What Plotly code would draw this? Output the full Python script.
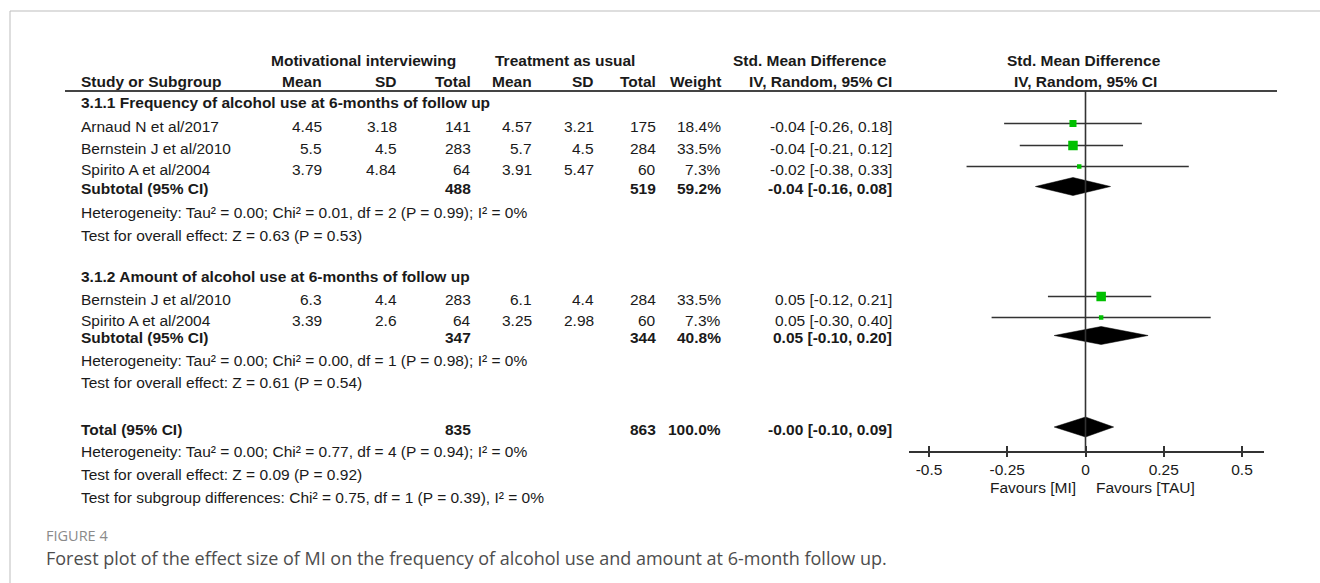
import plotly.graph_objects as go

# ---------------- data ----------------
studies = ["Arnaud N et al/2017", "Bernstein J et al/2010", "Spirito A et al/2004",
           "Bernstein J et al/2010", "Spirito A et al/2004"]
study_group = [0, 0, 0, 1, 1]
mi_mean = [4.45, 5.5, 3.79, 6.3, 3.39]
mi_sd = [3.18, 4.5, 4.84, 4.4, 2.6]
mi_n = [141, 283, 64, 283, 64]
tau_mean = [4.57, 5.7, 3.91, 6.1, 3.25]
tau_sd = [3.21, 4.5, 5.47, 4.4, 2.98]
tau_n = [175, 284, 60, 284, 60]
weight = [18.4, 33.5, 7.3, 33.5, 7.3]
smd = [-0.04, -0.04, -0.02, 0.05, 0.05]
ci_lo = [-0.26, -0.21, -0.38, -0.12, -0.30]
ci_hi = [0.18, 0.12, 0.33, 0.21, 0.40]

group_titles = ["3.1.1 Frequency of alcohol use at 6-months of follow up",
                "3.1.2 Amount of alcohol use at 6-months of follow up"]
sub_mi_n = [488, 347]
sub_tau_n = [519, 344]
sub_weight = [59.2, 40.8]
sub_smd = [-0.04, 0.05]
sub_lo = [-0.16, -0.10]
sub_hi = [0.08, 0.20]
sub_het = ["Heterogeneity: Tau² = 0.00; Chi² = 0.01, df = 2 (P = 0.99); I² = 0%",
           "Heterogeneity: Tau² = 0.00; Chi² = 0.00, df = 1 (P = 0.98); I² = 0%"]
sub_test = ["Test for overall effect: Z = 0.63 (P = 0.53)",
            "Test for overall effect: Z = 0.61 (P = 0.54)"]

total_mi_n = 835
total_tau_n = 863
total_weight = 100.0
total_smd = -0.00
total_lo = -0.10
total_hi = 0.09
total_notes = ["Heterogeneity: Tau² = 0.00; Chi² = 0.77, df = 4 (P = 0.94); I² = 0%",
               "Test for overall effect: Z = 0.09 (P = 0.92)",
               "Test for subgroup differences: Chi² = 0.75, df = 1 (P = 0.39), I² = 0%"]

tick_vals = [-0.5, -0.25, 0, 0.25, 0.5]
tick_text = ["-0.5", "-0.25", "0", "0.25", "0.5"]
favours = ["Favours [MI]", "Favours [TAU]"]

# ---------------- layout geometry (pixels) ----------------
W, H = 1320, 583
X0_PX = 1085.5          # pixel column of zero effect
PX_PER_UNIT = 313.0
AX_L, AX_R = 909, 1263.5
AXIS_Y = 452
RULE_Y = 91

HDR1_Y, HDR2_Y = 60, 81
group_title_y = [102, 276]
study_y = [126, 148, 169, 299, 320]
sub_y = [188, 337]
sub_het_y = [212.5, 360.5]
sub_test_y = [235, 382.5]
total_y = 429
total_notes_y = [451, 474, 497]

COL_NAME = 79
COL_MI_MEAN, COL_MI_SD, COL_MI_N = 324, 399, 473
COL_TAU_MEAN, COL_TAU_SD, COL_TAU_N = 534, 596, 658
COL_W, COL_CI = 723, 894

FONT = "Liberation Sans, Arial, sans-serif"
FS = 15.5
TXT = "#1a1a1a"
LINE = "#333333"
GREEN = "#00c000"

fig = go.Figure()
annots = []


def txt(px, y, s, anchor="left", bold=False, size=FS, color=TXT, family=FONT):
    annots.append(dict(
        x=px / W, xref="paper", y=y, yref="y",
        text=f"<b>{s}</b>" if bold else s,
        xanchor=anchor, yanchor="middle", showarrow=False,
        font=dict(family=family, size=size, color=color)))


def fmt(v):
    return f"{v:g}"


def ci_text(e, lo, hi):
    return f"{e:.2f} [{lo:.2f}, {hi:.2f}]"


# ---------------- header ----------------
txt(269, HDR1_Y, "Motivational interviewing", bold=True)
txt(493, HDR1_Y, "Treatment as usual", bold=True)
txt(731, HDR1_Y, "Std. Mean Difference", bold=True)
txt(1084, HDR1_Y, "Std. Mean Difference", anchor="center", bold=True)

txt(COL_NAME, HDR2_Y, "Study or Subgroup", bold=True)
for px, s in [(COL_MI_MEAN, "Mean"), (COL_MI_SD, "SD"), (COL_MI_N, "Total"),
              (COL_TAU_MEAN, "Mean"), (COL_TAU_SD, "SD"), (COL_TAU_N, "Total"),
              (COL_W, "Weight"), (COL_CI, "IV, Random, 95% CI")]:
    txt(px, HDR2_Y, s, anchor="right", bold=True)
txt(1085, HDR2_Y, "IV, Random, 95% CI", anchor="center", bold=True)

# ---------------- study rows ----------------
for i, name in enumerate(studies):
    y = study_y[i]
    txt(COL_NAME, y, name)
    txt(COL_MI_MEAN, y, fmt(mi_mean[i]), anchor="right")
    txt(COL_MI_SD, y, fmt(mi_sd[i]), anchor="right")
    txt(COL_MI_N, y, str(mi_n[i]), anchor="right")
    txt(COL_TAU_MEAN, y, fmt(tau_mean[i]), anchor="right")
    txt(COL_TAU_SD, y, fmt(tau_sd[i]), anchor="right")
    txt(COL_TAU_N, y, str(tau_n[i]), anchor="right")
    txt(COL_W, y, f"{weight[i]:.1f}%", anchor="right")
    txt(COL_CI, y, ci_text(smd[i], ci_lo[i], ci_hi[i]), anchor="right")

    my = y - 2.5
    fig.add_trace(go.Scatter(x=[ci_lo[i], ci_hi[i]], y=[my, my], mode="lines",
                             line=dict(color=LINE, width=1.6), hoverinfo="skip"))
    fig.add_trace(go.Scatter(x=[smd[i]], y=[my], mode="markers",
                             marker=dict(symbol="square", color=GREEN,
                                         size=9.5 * (weight[i] / 33.5) ** 0.5,
                                         line=dict(width=0)),
                             hoverinfo="skip"))


def diamond(est, lo, hi, yc, h=18):
    fig.add_trace(go.Scatter(x=[lo, est, hi, est, lo],
                             y=[yc, yc - h / 2, yc, yc + h / 2, yc],
                             mode="lines", fill="toself", fillcolor="black",
                             line=dict(color="black", width=0.5), hoverinfo="skip"))


# ---------------- subgroups ----------------
for g in range(2):
    txt(COL_NAME, group_title_y[g], group_titles[g], bold=True)
    y = sub_y[g]
    txt(COL_NAME, y, "Subtotal (95% CI)", bold=True)
    txt(COL_MI_N, y, str(sub_mi_n[g]), anchor="right", bold=True)
    txt(COL_TAU_N, y, str(sub_tau_n[g]), anchor="right", bold=True)
    txt(COL_W, y, f"{sub_weight[g]:.1f}%", anchor="right", bold=True)
    txt(COL_CI, y, ci_text(sub_smd[g], sub_lo[g], sub_hi[g]), anchor="right", bold=True)
    txt(COL_NAME, sub_het_y[g], sub_het[g])
    txt(COL_NAME, sub_test_y[g], sub_test[g])
    diamond(sub_smd[g], sub_lo[g], sub_hi[g], y - 1.5)

# ---------------- overall ----------------
txt(COL_NAME, total_y, "Total (95% CI)", bold=True)
txt(COL_MI_N, total_y, str(total_mi_n), anchor="right", bold=True)
txt(COL_TAU_N, total_y, str(total_tau_n), anchor="right", bold=True)
txt(COL_W, total_y, f"{total_weight:.1f}%", anchor="right", bold=True)
txt(COL_CI, total_y, ci_text(total_smd, total_lo, total_hi), anchor="right", bold=True)
for s, y in zip(total_notes, total_notes_y):
    txt(COL_NAME, y, s)
diamond(total_smd, total_lo, total_hi, total_y - 2, h=20)

# favours labels under the axis
txt(1078, AXIS_Y + 35, favours[0], anchor="right")
txt(1094, AXIS_Y + 35, favours[1], anchor="left")

# caption
txt(44, 535.5, "FIGURE 4", size=14.5, color="#8a8a8a", family="Open Sans, sans-serif")
txt(44, 558, "Forest plot of the effect size of MI on the frequency of alcohol use and amount at 6-month follow up.",
    size=18, color="#4d4d4d", family="Open Sans, sans-serif")

# ---------------- rules and frame ----------------
shapes = [
    dict(type="line", xref="paper", yref="y", x0=10 / W, x1=1.0, y0=11, y1=11,
         line=dict(color="#bdbdbd", width=1)),
    dict(type="line", xref="paper", yref="y", x0=10 / W, x1=10 / W, y0=11, y1=H,
         line=dict(color="#bdbdbd", width=1)),
    dict(type="line", xref="paper", yref="y", x0=65 / W, x1=1277 / W, y0=RULE_Y, y1=RULE_Y,
         line=dict(color="#444444", width=2)),
    dict(type="line", xref="x", yref="y", x0=0, x1=0, y0=RULE_Y, y1=AXIS_Y,
         line=dict(color=LINE, width=1.6)),
]

x_range = [(AX_L - X0_PX) / PX_PER_UNIT, (AX_R - X0_PX) / PX_PER_UNIT]
axis_pos = 1 - AXIS_Y / H
common_axis = dict(domain=[AX_L / W, AX_R / W], range=x_range, anchor="free",
                   position=axis_pos, showgrid=False, zeroline=False,
                   tickvals=tick_vals, tickcolor=LINE, tickwidth=1.6,
                   fixedrange=True)

fig.update_layout(
    width=W, height=H, autosize=False,
    margin=dict(l=0, r=0, t=0, b=0, pad=0),
    paper_bgcolor="white", plot_bgcolor="white",
    showlegend=False,
    xaxis=dict(**common_axis, showline=True, linecolor=LINE, linewidth=1.6,
               ticks="outside", ticklen=4, ticktext=tick_text,
               tickfont=dict(family=FONT, size=FS, color=TXT)),
    xaxis2=dict(**common_axis, overlaying="x", showline=False,
                ticks="inside", ticklen=6, showticklabels=False),
    yaxis=dict(domain=[0, 1], range=[H, 0], visible=False, fixedrange=True),
    shapes=shapes,
    annotations=annots,
)
# invisible trace so the overlay axis with inner tick marks is rendered
fig.add_trace(go.Scatter(x=[0], y=[AXIS_Y], xaxis="x2", mode="markers",
                         marker=dict(opacity=0), hoverinfo="skip"))

fig.write_html("out.html")
